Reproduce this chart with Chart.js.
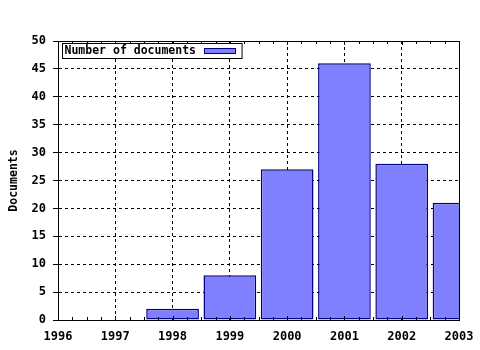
<!DOCTYPE html>
<html>
<head>
<meta charset="utf-8">
<script src="https://cdn.jsdelivr.net/npm/chart.js@4/dist/chart.umd.min.js"></script>
<style>
html,body{margin:0;padding:0;background:#fff;}
canvas{display:block;}
</style>
</head>
<body>
<canvas id="c" width="480" height="350"></canvas>
<script>
const years = [1996, 1997, 1998, 1999, 2000, 2001, 2002, 2003];
const documents = [null, null, 2, 8, 27, 46, 28, 21];
const seriesLabel = 'Number of documents';
const yTitle = 'Documents';
const yTicks = [0, 5, 10, 15, 20, 25, 30, 35, 40, 45, 50];

const FONT = '"DejaVu Sans Mono", "Liberation Mono", monospace';
const fillColor = '#8080ff';
const edgeColor = '#000080';

const framePlugin = {
  id: 'frame',
  afterDatasetsDraw(chart) {
    const {ctx, chartArea: a, scales: {x}} = chart;
    ctx.save();
    ctx.strokeStyle = '#000';
    ctx.lineWidth = 1;
    ctx.setLineDash([]);
    ctx.beginPath();
    ctx.moveTo(a.left, a.top + 0.5);
    ctx.lineTo(a.right + 0.5, a.top + 0.5);
    ctx.lineTo(a.right + 0.5, a.bottom);
    ctx.stroke();
    ctx.beginPath();
    for (let v = years[0]; v <= years[years.length - 1] + 1e-9; v += 0.25) {
      const px = Math.round(x.getPixelForValue(v)) + 0.5;
      const major = Math.abs(v - Math.round(v)) < 1e-9;
      const len = major ? 4 : 3;
      ctx.moveTo(px, a.top);
      ctx.lineTo(px, a.top + len);
      ctx.moveTo(px, a.bottom);
      ctx.lineTo(px, a.bottom - len);
    }
    ctx.stroke();
    ctx.restore();
  },
  afterDraw(chart) {
    const {ctx, chartArea: a} = chart;
    const label = chart.data.datasets[0].label;
    ctx.save();
    ctx.font = 'bold 11.5px ' + FONT;
    const tw = ctx.measureText(label).width;
    const bx = a.left + 4.5, by = a.top + 2.5;
    const bw = tw + 48, bh = 15;
    ctx.fillStyle = '#fff';
    ctx.fillRect(bx, by, bw, bh);
    ctx.strokeStyle = '#000';
    ctx.lineWidth = 1;
    ctx.strokeRect(bx, by, bw, bh);
    ctx.fillStyle = '#000';
    ctx.textBaseline = 'middle';
    ctx.fillText(label, bx + 2, by + bh / 2 + 0.5);
    const sx = Math.round(bx + 2 + tw + 8) + 0.5;
    ctx.fillStyle = fillColor;
    ctx.fillRect(sx, by + 5, 31, 5);
    ctx.strokeStyle = edgeColor;
    ctx.strokeRect(sx, by + 5, 31, 5);
    ctx.restore();
  }
};

new Chart(document.getElementById('c'), {
  type: 'bar',
  data: {
    datasets: [{
      label: seriesLabel,
      data: years.map((y, i) => ({x: y, y: documents[i]})),
      backgroundColor: fillColor,
      borderColor: edgeColor,
      borderWidth: 1.5,
      borderSkipped: false,
      barPercentage: 0.92,
      categoryPercentage: 1.0,
      clip: 0
    }]
  },
  options: {
    responsive: false,
    animation: false,
    events: [],
    layout: {padding: {top: 41, right: 21, left: 0, bottom: 0}},
    plugins: {legend: {display: false}, tooltip: {enabled: false}},
    scales: {
      x: {
        type: 'linear',
        offset: false,
        min: years[0],
        max: years[years.length - 1],
        afterFit(s) { s.height = 30; s.paddingLeft = 0; s.paddingRight = 0; },
        afterBuildTicks(s) { s.ticks = years.map(v => ({value: v})); },
        ticks: {
          callback: v => String(v),
          color: '#000',
          font: {family: FONT, size: 12, weight: 'bold'},
          padding: 10,
          maxRotation: 0,
          autoSkip: false
        },
        grid: {color: '#000', lineWidth: 1, drawTicks: false, offset: false},
        border: {display: true, color: '#000', width: 1, dash: [3, 3]}
      },
      y: {
        min: 0,
        max: 50,
        afterFit(s) { s.width = 58; s.paddingTop = 0; s.paddingBottom = 0; },
        afterBuildTicks(s) { s.ticks = yTicks.map(v => ({value: v})); },
        ticks: {
          color: '#000',
          font: {family: FONT, size: 12, weight: 'bold'},
          padding: 7
        },
        grid: {color: '#000', lineWidth: 1, drawTicks: true, tickLength: 5, tickColor: '#000'},
        border: {display: true, color: '#000', width: 1, dash: [3, 3]},
        title: {
          display: true,
          text: yTitle,
          color: '#000',
          font: {family: FONT, size: 11.5, weight: 'bold'},
          padding: {top: 7, bottom: 0}
        }
      }
    }
  },
  plugins: [framePlugin]
});
</script>
</body>
</html>
